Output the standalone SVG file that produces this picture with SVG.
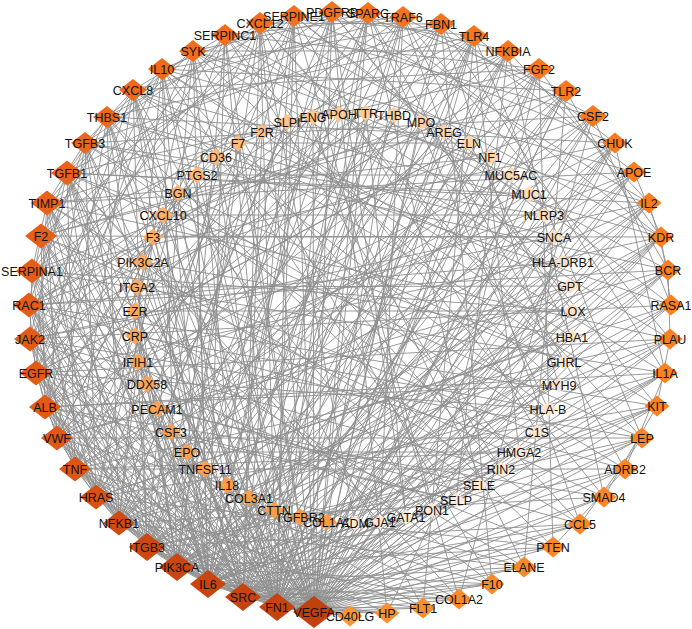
<svg xmlns="http://www.w3.org/2000/svg" xmlns:xlink="http://www.w3.org/1999/xlink" width="692" height="629" viewBox="0 0 692 629">
<style>
.e{fill:none;stroke:#8e8e8e;stroke-width:0.9}
text{font-family:"Liberation Sans",Arial,sans-serif;font-size:12.5px;fill:#111;text-anchor:middle}
</style>
<defs>
<polygon id="dXL" points="0,-16 21,0 0,16 -21,0"/>
<polygon id="dL" points="0,-14 18,0 0,14 -18,0"/>
<polygon id="dM" points="0,-12.5 16,0 0,12.5 -16,0"/>
<polygon id="dS" points="0,-11 14,0 0,11 -14,0"/>
<polygon id="dXS" points="0,-10.5 12.5,0 0,10.5 -12.5,0"/>
<polygon id="i1" points="0,-8.5 10,0 0,8.5 -10,0"/>
<polygon id="i2" points="0,-8 9.5,0 0,8 -9.5,0"/>
<polygon id="i3" points="0,-7.5 9,0 0,7.5 -9,0"/>
</defs>
<rect width="692" height="629" fill="#fff"/>
<g id="edges">
<path class="e" d="M277 607L314 612L243 597M208 584L314 612L177 567M147 547L314 612L119 523M96 497L314 612L75 469M57 438L314 612L45 407M36 373L314 612L30 339M29 305L314 612L32 271M41 236L314 612L47 203M67 173L314 612L85 143M107 117L314 612L133 90M162 69L314 612L193 51M225 35L314 612L260 23M294 16L314 612L332 12M368 13L314 612L403 17M441 24L314 612L474 36M508 51L314 612L539 69M566 91L314 612L593 116M615 143L314 612L634 172M649 203L314 612L661 237M668 270L314 612L671 305M670 339L314 612L665 373M657 406L314 612L642 438M625 469L314 612L604 497M580 524L314 612L553 547M524 567L314 612L492 584M459 599L314 612L423 608M387 613L314 612L350 616M327 522L314 612L274 510M227 485L314 612L171 432M135 336L314 612L137 287M163 215L314 612L197 175M238 143L314 612L313 117M366 113L314 612L421 122M469 143L314 612L529 194M563 262L314 612L573 311M564 362L314 612L537 432M479 485L314 612L432 510M380 522L314 612"/>
<path class="e" d="M208 584L277 607L177 567M147 547L277 607L119 523M96 497L277 607L75 469M57 438L277 607L45 407M36 373L277 607L30 339M29 305L277 607L32 271M41 236L277 607L47 203M67 173L277 607L85 143M107 117L277 607L133 90M162 69L277 607L225 35M260 23L277 607L294 16M332 12L277 607L368 13M441 24L277 607L474 36M539 69L277 607L593 116M615 143L277 607L634 172M649 203L277 607L661 237M668 270L277 607L670 339M665 373L277 607L642 438M604 497L277 607L580 524M524 567L277 607L492 584M423 608L277 607L387 613M350 616L277 607L300 517M249 498L277 607L187 452M147 384L277 607L135 311M153 237L277 607L216 157M287 122L277 607L339 114M444 132L277 607L490 157M554 237L277 607L572 337M519 452L277 607L406 517"/>
<path class="e" d="M177 567L243 597L147 547M119 523L243 597L96 497M75 469L243 597L45 407M36 373L243 597L30 339M29 305L243 597L41 236M47 203L243 597L67 173M107 117L243 597L133 90M193 51L243 597L260 23M294 16L243 597L368 13M403 17L243 597L474 36M508 51L243 597L566 91M615 143L243 597L649 203M661 237L243 597L668 270M671 305L243 597L665 373M657 406L243 597L625 469M553 547L243 597L492 584M459 599L243 597L387 613M205 469L243 597L157 409M138 362L243 597L143 262M178 193L243 597L262 132M394 115L243 597L511 175M570 286L243 597L548 409M456 500L243 597"/>
<path class="e" d="M177 567L208 584L147 547M119 523L208 584L96 497M75 469L208 584L57 438M45 407L208 584L36 373M29 305L208 584L32 271M47 203L208 584L67 173M85 143L208 584L133 90M162 69L208 584L193 51M225 35L208 584L294 16M332 12L208 584L403 17M474 36L208 584L508 51M539 69L208 584L566 91M593 116L208 584L615 143M634 172L208 584L661 237M670 339L208 584L665 373M657 406L208 584L642 438M580 524L208 584L524 567M459 599L208 584L423 608M350 616L208 584L171 432M138 362L208 584L135 336M163 215L208 584L197 175M313 117L208 584L366 113M469 143L208 584L544 215M559 385L208 584L501 469M432 510L208 584"/>
<path class="e" d="M147 547L177 567L119 523M96 497L177 567L75 469M57 438L177 567L36 373M30 339L177 567L29 305M41 236L177 567L67 173M107 117L177 567L162 69M225 35L177 567L260 23M332 12L177 567L368 13M441 24L177 567L508 51M566 91L177 567L634 172M649 203L177 567L661 237M668 270L177 567L671 305M657 406L177 567L625 469M553 547L177 567L492 584M274 510L177 567L147 384M137 287L177 567L238 143M421 122L177 567L563 262M537 432L177 567"/>
<path class="e" d="M96 497L147 547L57 438M45 407L147 547L30 339M32 271L147 547L47 203M85 143L147 547L133 90M193 51L147 547L294 16M368 13L147 547L403 17M474 36L147 547L539 69M615 143L147 547L649 203M668 270L147 547L670 339M642 438L147 547L580 524M459 599L147 547L227 485M135 311L147 547L216 157M394 115L147 547L573 311M479 485L147 547"/>
<path class="e" d="M75 469L119 523L45 407M36 373L119 523L29 305M41 236L119 523L67 173M107 117L119 523L162 69M260 23L119 523L332 12M441 24L119 523L508 51M593 116L119 523L661 237M665 373L119 523L604 497M524 567L119 523L187 452M153 237L119 523L287 122M490 157L119 523L564 362"/>
<path class="e" d="M57 438L96 497L36 373M30 339L96 497L32 271M47 203L96 497L85 143M193 51L96 497L294 16M403 17L96 497L566 91M634 172L96 497L671 305M657 406L96 497L553 547M423 608L96 497L157 409M178 193L96 497L444 132M572 337L96 497"/>
<path class="e" d="M45 407L75 469L30 339M29 305L75 469L41 236M67 173L75 469L133 90M225 35L75 469L368 13M474 36L75 469L593 116M649 203L75 469L670 339M625 469L75 469L492 584M387 613L75 469L135 336M262 132L75 469L529 194M519 452L75 469"/>
<path class="e" d="M36 373L57 438L32 271M47 203L57 438L107 117M260 23L57 438L441 24M539 69L57 438L615 143M668 270L57 438L642 438M524 567L57 438L143 262M339 114L57 438L570 286"/>
<path class="e" d="M30 339L45 407L41 236M85 143L45 407L162 69M294 16L45 407L403 17M508 51L45 407L634 172M665 373L45 407L604 497M459 599L45 407L197 175M511 175L45 407L559 385M456 500L45 407"/>
<path class="e" d="M29 305L36 373L47 203M133 90L36 373L193 51M332 12L36 373L474 36M566 91L36 373L661 237M670 339L36 373L580 524M423 608L36 373L238 143M469 143L36 373L548 409"/>
<path class="e" d="M32 271L30 339L67 173M162 69L30 339L225 35M368 13L30 339L539 69M649 203L30 339L671 305M642 438L30 339L553 547M313 117L30 339L554 237M501 469L30 339"/>
<path class="e" d="M41 236L29 305L85 143M260 23L29 305L441 24M508 51L29 305L593 116M668 270L29 305L657 406M625 469L29 305L366 113M563 262L29 305L406 517"/>
<path class="e" d="M47 203L32 271L107 117M225 35L32 271L403 17M615 143L32 271L665 373M524 567L32 271L421 122M573 311L32 271"/>
<path class="e" d="M67 173L41 236L133 90M294 16L41 236L474 36M566 91L41 236L661 237M604 497L41 236L492 584M444 132L41 236L537 432"/>
<path class="e" d="M85 143L47 203L162 69M332 12L47 203L508 51M634 172L47 203L670 339M580 524L47 203L490 157M479 485L47 203"/>
<path class="e" d="M107 117L67 173L193 51M368 13L67 173L539 69M649 203L67 173L642 438M459 599L67 173L529 194M564 362L67 173L380 522"/>
<path class="e" d="M133 90L85 143L260 23M441 24L85 143L593 116M668 270L85 143L625 469M544 215L85 143L519 452"/>
<path class="e" d="M193 51L107 117L294 16M474 36L107 117L615 143M671 305L107 117L553 547M554 237L107 117L432 510"/>
<path class="e" d="M225 35L133 90L403 17M539 69L133 90L661 237M657 406L133 90L423 608M570 286L133 90L548 409"/>
<path class="e" d="M294 16L162 69L441 24M566 91L162 69L649 203M665 373L162 69L580 524M572 337L162 69L456 500"/>
<path class="e" d="M368 13L193 51L508 51M634 172L193 51L670 339M492 584L193 51L511 175M559 385L193 51"/>
<path class="e" d="M403 17L225 35L539 69M668 270L225 35L604 497M563 262L225 35L501 469"/>
<path class="e" d="M441 24L260 23L593 116M661 237L260 23L642 438M524 567L260 23L564 362M355 523L260 23"/>
<path class="e" d="M474 36L294 16L615 143M671 305L294 16L459 599M544 215L294 16L537 432"/>
<path class="e" d="M508 51L332 12L649 203M657 406L332 12L387 613M573 311L332 12L406 517"/>
<path class="e" d="M566 91L368 13L661 237M625 469L368 13L548 409M479 485L368 13"/>
<path class="e" d="M593 116L403 17L670 339M580 524L403 17L572 337M380 522L403 17"/>
<path class="e" d="M634 172L441 24L665 373M492 584L441 24L559 385M615 143L474 36L642 438M423 608L474 36L519 452"/>
<path class="e" d="M649 203L508 51L604 497M456 500L508 51M661 237L539 69L553 547M432 510L539 69M668 270L566 91L524 567M355 523L566 91M671 305L593 116L459 599M665 373L615 143L387 613"/>
<path class="e" d="M661 237L671 305M668 270L670 339M670 339L657 406M665 373L625 469M657 406L604 497M642 438L580 524M625 469L553 547M634 172L661 237M649 203L668 270"/>
<path class="e" d="M135 336L548 409M135 311L573 311M137 287L570 286M153 237L554 237M157 409L479 485M171 432L456 500M163 215L544 215M197 175L511 175M238 143L469 143M313 117L432 510M366 113L406 517M216 157L501 469M178 193L564 362M143 262L572 337M187 452L519 452"/>
</g>
<g id="n-PDGFRB"><use href="#dS" x="332" y="12" fill="#F4721E"/><text x="332" y="16.5">PDGFRB</text></g>
<g id="n-SPARC"><use href="#dS" x="368" y="13" fill="#F4731E"/><text x="368" y="17.5">SPARC</text></g>
<g id="n-TRAF6"><use href="#dS" x="403" y="17" fill="#F5741F"/><text x="403" y="21.5">TRAF6</text></g>
<g id="n-FBN1"><use href="#dS" x="441" y="24" fill="#F5751F"/><text x="441" y="28.5">FBN1</text></g>
<g id="n-TLR4"><use href="#dS" x="474" y="36" fill="#F6761F"/><text x="474" y="40.5">TLR4</text></g>
<g id="n-NFKBIA"><use href="#dS" x="508" y="51" fill="#F67720"/><text x="508" y="55.5">NFKBIA</text></g>
<g id="n-FGF2"><use href="#dS" x="539" y="69" fill="#F77820"/><text x="539" y="73.5">FGF2</text></g>
<g id="n-TLR2"><use href="#dS" x="566" y="91" fill="#F77920"/><text x="566" y="95.5">TLR2</text></g>
<g id="n-CSF2"><use href="#dS" x="593" y="116" fill="#F77A21"/><text x="593" y="120.5">CSF2</text></g>
<g id="n-CHUK"><use href="#dXS" x="615" y="143" fill="#F87B21"/><text x="615" y="147.5">CHUK</text></g>
<g id="n-APOE"><use href="#dXS" x="634" y="172" fill="#F87C21"/><text x="634" y="176.5">APOE</text></g>
<g id="n-IL2"><use href="#dXS" x="649" y="203" fill="#F87D22"/><text x="649" y="207.5">IL2</text></g>
<g id="n-KDR"><use href="#dXS" x="661" y="237" fill="#F87E22"/><text x="661" y="241.5">KDR</text></g>
<g id="n-BCR"><use href="#dXS" x="668" y="270" fill="#F97F22"/><text x="668" y="274.5">BCR</text></g>
<g id="n-RASA1"><use href="#dXS" x="671" y="305" fill="#F98023"/><text x="671" y="309.5">RASA1</text></g>
<g id="n-PLAU"><use href="#dXS" x="670" y="339" fill="#F98123"/><text x="670" y="343.5">PLAU</text></g>
<g id="n-IL1A"><use href="#dXS" x="665" y="373" fill="#F98224"/><text x="665" y="377.5">IL1A</text></g>
<g id="n-KIT"><use href="#dXS" x="657" y="406" fill="#F98324"/><text x="657" y="410.5">KIT</text></g>
<g id="n-LEP"><use href="#dXS" x="642" y="438" fill="#FA8425"/><text x="642" y="442.5">LEP</text></g>
<g id="n-ADRB2"><use href="#dXS" x="625" y="469" fill="#FA8526"/><text x="625" y="473.5">ADRB2</text></g>
<g id="n-SMAD4"><use href="#dXS" x="604" y="497" fill="#FA8627"/><text x="604" y="501.5">SMAD4</text></g>
<g id="n-CCL5"><use href="#dXS" x="580" y="524" fill="#FA8728"/><text x="580" y="528.5">CCL5</text></g>
<g id="n-PTEN"><use href="#dXS" x="553" y="547" fill="#FA8829"/><text x="553" y="551.5">PTEN</text></g>
<g id="n-ELANE"><use href="#dXS" x="524" y="567" fill="#FB892A"/><text x="524" y="571.5">ELANE</text></g>
<g id="n-F10"><use href="#dXS" x="492" y="584" fill="#FB8A2B"/><text x="492" y="588.5">F10</text></g>
<g id="n-COL1A2"><use href="#dXS" x="459" y="599" fill="#FB8C2D"/><text x="459" y="603.5">COL1A2</text></g>
<g id="n-FLT1"><use href="#dXS" x="423" y="608" fill="#FB8E2F"/><text x="423" y="612.5">FLT1</text></g>
<g id="n-HP"><use href="#dXS" x="387" y="613" fill="#FC9031"/><text x="387" y="617.5">HP</text></g>
<g id="n-CD40LG"><use href="#dXS" x="350" y="616" fill="#FC9434"/><text x="350" y="620.5">CD40LG</text></g>
<g id="n-VEGFA"><use href="#dXL" x="314" y="612" fill="#C0400E"/><text x="314" y="616.5">VEGFA</text></g>
<g id="n-FN1"><use href="#dL" x="277" y="607" fill="#C5430F"/><text x="277" y="611.5">FN1</text></g>
<g id="n-SRC"><use href="#dL" x="243" y="597" fill="#C74410"/><text x="243" y="601.5">SRC</text></g>
<g id="n-IL6"><use href="#dL" x="208" y="584" fill="#C84510"/><text x="208" y="588.5">IL6</text></g>
<g id="n-PIK3CA"><use href="#dL" x="177" y="567" fill="#C94610"/><text x="177" y="571.5">PIK3CA</text></g>
<g id="n-ITGB3"><use href="#dL" x="147" y="547" fill="#CC4811"/><text x="147" y="551.5">ITGB3</text></g>
<g id="n-NFKB1"><use href="#dM" x="119" y="523" fill="#D04B12"/><text x="119" y="527.5">NFKB1</text></g>
<g id="n-HRAS"><use href="#dM" x="96" y="497" fill="#D85213"/><text x="96" y="501.5">HRAS</text></g>
<g id="n-TNF"><use href="#dM" x="75" y="469" fill="#DC5514"/><text x="75" y="473.5">TNF</text></g>
<g id="n-VWF"><use href="#dM" x="57" y="438" fill="#DF5815"/><text x="57" y="442.5">VWF</text></g>
<g id="n-ALB"><use href="#dM" x="45" y="407" fill="#E15A16"/><text x="45" y="411.5">ALB</text></g>
<g id="n-EGFR"><use href="#dM" x="36" y="373" fill="#E25B16"/><text x="36" y="377.5">EGFR</text></g>
<g id="n-JAK2"><use href="#dM" x="30" y="339" fill="#E35C17"/><text x="30" y="343.5">JAK2</text></g>
<g id="n-RAC1"><use href="#dM" x="29" y="305" fill="#E45D17"/><text x="29" y="309.5">RAC1</text></g>
<g id="n-SERPINA1"><use href="#dM" x="32" y="271" fill="#E55E18"/><text x="32" y="275.5">SERPINA1</text></g>
<g id="n-F2"><use href="#dM" x="41" y="236" fill="#E65F18"/><text x="41" y="240.5">F2</text></g>
<g id="n-TIMP1"><use href="#dM" x="47" y="203" fill="#E86219"/><text x="47" y="207.5">TIMP1</text></g>
<g id="n-TGFB1"><use href="#dM" x="67" y="173" fill="#E9631A"/><text x="67" y="177.5">TGFB1</text></g>
<g id="n-TGFB3"><use href="#dS" x="85" y="143" fill="#EB661A"/><text x="85" y="147.5">TGFB3</text></g>
<g id="n-THBS1"><use href="#dS" x="107" y="117" fill="#EC681B"/><text x="107" y="121.5">THBS1</text></g>
<g id="n-CXCL8"><use href="#dS" x="133" y="90" fill="#EE6A1B"/><text x="133" y="94.5">CXCL8</text></g>
<g id="n-IL10"><use href="#dS" x="162" y="69" fill="#EF6B1C"/><text x="162" y="73.5">IL10</text></g>
<g id="n-SYK"><use href="#dS" x="193" y="51" fill="#F06D1C"/><text x="193" y="55.5">SYK</text></g>
<g id="n-SERPINC1"><use href="#dS" x="225" y="35" fill="#F16E1D"/><text x="225" y="39.5">SERPINC1</text></g>
<g id="n-CXCL12"><use href="#dS" x="260" y="23" fill="#F2701D"/><text x="260" y="27.5">CXCL12</text></g>
<g id="n-SERPINE1"><use href="#dS" x="294" y="16" fill="#F3711E"/><text x="294" y="20.5">SERPINE1</text></g>
<g id="n-COL1A1"><use href="#i1" x="327" y="522" fill="#F99A48"/><text x="327" y="526.5">COL1A1</text></g>
<g id="n-TGFBR2"><use href="#i1" x="300" y="517" fill="#F99B4A"/><text x="300" y="521.5">TGFBR2</text></g>
<g id="n-CTTN"><use href="#i1" x="274" y="510" fill="#FA9C4B"/><text x="274" y="514.5">CTTN</text></g>
<g id="n-COL3A1"><use href="#i1" x="249" y="498" fill="#FA9D4C"/><text x="249" y="502.5">COL3A1</text></g>
<g id="n-IL18"><use href="#i1" x="227" y="485" fill="#FA9E4E"/><text x="227" y="489.5">IL18</text></g>
<g id="n-TNFSF11"><use href="#i1" x="205" y="469" fill="#FA9F50"/><text x="205" y="473.5">TNFSF11</text></g>
<g id="n-EPO"><use href="#i1" x="187" y="452" fill="#FAA052"/><text x="187" y="456.5">EPO</text></g>
<g id="n-CSF3"><use href="#i1" x="171" y="432" fill="#FAA154"/><text x="171" y="436.5">CSF3</text></g>
<g id="n-PECAM1"><use href="#i1" x="157" y="409" fill="#FBA256"/><text x="157" y="413.5">PECAM1</text></g>
<g id="n-DDX58"><use href="#i1" x="147" y="384" fill="#FBA458"/><text x="147" y="388.5">DDX58</text></g>
<g id="n-IFIH1"><use href="#i1" x="138" y="362" fill="#FBA55A"/><text x="138" y="366.5">IFIH1</text></g>
<g id="n-CRP"><use href="#i1" x="135" y="336" fill="#FBA75C"/><text x="135" y="340.5">CRP</text></g>
<g id="n-EZR"><use href="#i1" x="135" y="311" fill="#FBA95F"/><text x="135" y="315.5">EZR</text></g>
<g id="n-ITGA2"><use href="#i1" x="137" y="287" fill="#FCAB62"/><text x="137" y="291.5">ITGA2</text></g>
<g id="n-PIK3C2A"><use href="#i1" x="143" y="262" fill="#FCAD65"/><text x="143" y="266.5">PIK3C2A</text></g>
<g id="n-F3"><use href="#i1" x="153" y="237" fill="#FCAF68"/><text x="153" y="241.5">F3</text></g>
<g id="n-CXCL10"><use href="#i1" x="163" y="215" fill="#FCB26C"/><text x="163" y="219.5">CXCL10</text></g>
<g id="n-BGN"><use href="#i1" x="178" y="193" fill="#FCB470"/><text x="178" y="197.5">BGN</text></g>
<g id="n-PTGS2"><use href="#i1" x="197" y="175" fill="#FDB774"/><text x="197" y="179.5">PTGS2</text></g>
<g id="n-CD36"><use href="#i1" x="216" y="157" fill="#FDBA78"/><text x="216" y="161.5">CD36</text></g>
<g id="n-F7"><use href="#i2" x="238" y="143" fill="#FDBD7E"/><text x="238" y="147.5">F7</text></g>
<g id="n-F2R"><use href="#i2" x="262" y="132" fill="#FDC084"/><text x="262" y="136.5">F2R</text></g>
<g id="n-SLPI"><use href="#i2" x="287" y="122" fill="#FDC38A"/><text x="287" y="126.5">SLPI</text></g>
<g id="n-ENG"><use href="#i2" x="313" y="117" fill="#FEC690"/><text x="313" y="121.5">ENG</text></g>
<g id="n-APOH"><use href="#i2" x="339" y="114" fill="#FEC995"/><text x="339" y="118.5">APOH</text></g>
<g id="n-TTR"><use href="#i2" x="366" y="113" fill="#FECB9A"/><text x="366" y="117.5">TTR</text></g>
<g id="n-THBD"><use href="#i2" x="394" y="115" fill="#FECE9F"/><text x="394" y="119.5">THBD</text></g>
<g id="n-MPO"><use href="#i2" x="421" y="122" fill="#FED0A4"/><text x="421" y="126.5">MPO</text></g>
<g id="n-AREG"><use href="#i2" x="444" y="132" fill="#FED3A9"/><text x="444" y="136.5">AREG</text></g>
<g id="n-ELN"><use href="#i2" x="469" y="143" fill="#FED5AE"/><text x="469" y="147.5">ELN</text></g>
<g id="n-NF1"><use href="#i2" x="490" y="157" fill="#FED7B2"/><text x="490" y="161.5">NF1</text></g>
<g id="n-MUC5AC"><use href="#i2" x="511" y="175" fill="#FED9B6"/><text x="511" y="179.5">MUC5AC</text></g>
<g id="n-MUC1"><use href="#i2" x="529" y="194" fill="#FEDBBA"/><text x="529" y="198.5">MUC1</text></g>
<g id="n-NLRP3"><use href="#i3" x="544" y="215" fill="#FEDDBE"/><text x="544" y="219.5">NLRP3</text></g>
<g id="n-SNCA"><use href="#i3" x="554" y="237" fill="#FEDFC1"/><text x="554" y="241.5">SNCA</text></g>
<g id="n-HLA-DRB1"><use href="#i3" x="563" y="262" fill="#FEE0C4"/><text x="563" y="266.5">HLA-DRB1</text></g>
<g id="n-GPT"><use href="#i3" x="570" y="286" fill="#FEE1C6"/><text x="570" y="290.5">GPT</text></g>
<g id="n-LOX"><use href="#i3" x="573" y="311" fill="#FEE2C8"/><text x="573" y="315.5">LOX</text></g>
<g id="n-HBA1"><use href="#i3" x="572" y="337" fill="#FEE3CA"/><text x="572" y="341.5">HBA1</text></g>
<g id="n-GHRL"><use href="#i3" x="564" y="362" fill="#FEE4CC"/><text x="564" y="366.5">GHRL</text></g>
<g id="n-MYH9"><use href="#i3" x="559" y="385" fill="#FEE5CD"/><text x="559" y="389.5">MYH9</text></g>
<g id="n-HLA-B"><use href="#i3" x="548" y="409" fill="#FEE6CF"/><text x="548" y="413.5">HLA-B</text></g>
<g id="n-C1S"><use href="#i3" x="537" y="432" fill="#FEE6D0"/><text x="537" y="436.5">C1S</text></g>
<g id="n-HMGA2"><use href="#i3" x="519" y="452" fill="#FFE7D1"/><text x="519" y="456.5">HMGA2</text></g>
<g id="n-RIN2"><use href="#i3" x="501" y="469" fill="#FFE7D2"/><text x="501" y="473.5">RIN2</text></g>
<g id="n-SELE"><use href="#i3" x="479" y="485" fill="#FFE8D3"/><text x="479" y="489.5">SELE</text></g>
<g id="n-SELP"><use href="#i3" x="456" y="500" fill="#FFE8D4"/><text x="456" y="504.5">SELP</text></g>
<g id="n-PON1"><use href="#i3" x="432" y="510" fill="#FFE9D5"/><text x="432" y="514.5">PON1</text></g>
<g id="n-GATA1"><use href="#i3" x="406" y="517" fill="#FFE9D6"/><text x="406" y="521.5">GATA1</text></g>
<g id="n-GJA1"><use href="#i3" x="380" y="522" fill="#FFEAD7"/><text x="380" y="526.5">GJA1</text></g>
<g id="n-ADM"><use href="#i3" x="355" y="523" fill="#FFEAD8"/><text x="355" y="527.5">ADM</text></g>
</svg>
